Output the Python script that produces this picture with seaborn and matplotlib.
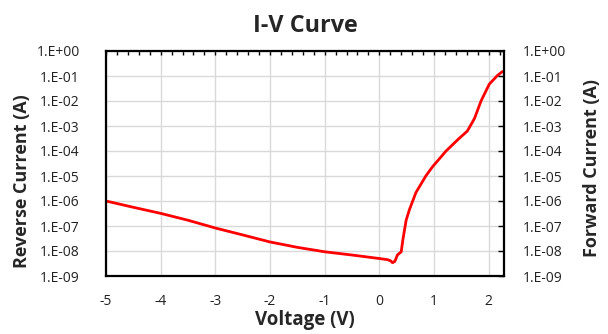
import matplotlib
matplotlib.use("Agg")
import matplotlib.pyplot as plt
from matplotlib.ticker import FuncFormatter, LogLocator, MultipleLocator, NullFormatter
import numpy as np
import pandas as pd
import seaborn as sns

# Measured I-V sweep (volts, amps)
voltage = [-5.0, -4.5, -4.0, -3.5, -3.0, -2.5, -2.0, -1.5, -1.0, -0.5,
           0.0, 0.15, 0.21, 0.24, 0.28, 0.30, 0.33, 0.40, 0.43, 0.49,
           0.55, 0.67, 0.85, 0.97, 1.22, 1.46, 1.61, 1.74, 1.86, 2.01,
           2.16, 2.25]
current = [1.0e-6, 5.6e-7, 3.2e-7, 1.7e-7, 8.3e-8, 4.4e-8, 2.3e-8, 1.4e-8, 9.3e-9, 6.9e-9,
           5.0e-9, 4.5e-9, 4.0e-9, 3.4e-9, 3.8e-9, 4.7e-9, 6.9e-9, 9.3e-9, 2.8e-8, 1.7e-7,
           4.5e-7, 2.2e-6, 1.0e-5, 2.3e-5, 1.0e-4, 3.2e-4, 6.3e-4, 2.0e-3, 1.0e-2, 4.7e-2,
           1.05e-1, 1.5e-1]

x_ticks = [-5, -4, -3, -2, -1, 0, 1, 2]
y_ticks = [1e0, 1e-1, 1e-2, 1e-3, 1e-4, 1e-5, 1e-6, 1e-7, 1e-8, 1e-9]

df = pd.DataFrame({"Voltage": voltage, "Current": current})

sns.set_theme(style="white")
plt.rcParams["font.family"] = ["Open Sans", "DejaVu Sans"]

fig = plt.figure(figsize=(6.08, 3.34), dpi=100)
ax = fig.add_axes([106 / 608, 58 / 334, 398 / 608, 225 / 334])

sns.lineplot(data=df, x="Voltage", y="Current", sort=False, color="#ff0000",
             linewidth=2.0, ax=ax, legend=False)

ax.set_yscale("log")
ax.set_ylim(1e-9, 1e0)
ax.set_xlim(-5, 2.28)

sci = FuncFormatter(lambda v, pos: "1.E{:+03d}".format(int(round(np.log10(v)))))

ax.set_xticks(x_ticks)
ax.set_xticklabels([str(t) for t in x_ticks])
ax.xaxis.set_minor_locator(MultipleLocator(0.2))
ax.set_yticks(y_ticks)
ax.yaxis.set_major_formatter(sci)
ax.yaxis.set_minor_formatter(NullFormatter())

ax.grid(True, which="major", color="#d9d9d9", linewidth=1.0)
ax.tick_params(axis="x", which="both", bottom=False, top=True, direction="in",
               length=3, width=1, color="black", labelsize=10, pad=13,
               labelcolor="#222222")
ax.tick_params(axis="y", which="both", left=False, right=False, length=0,
               labelsize=10, pad=19, labelcolor="#222222")

for s in ax.spines.values():
    s.set_visible(True)
    s.set_color("black")
    s.set_linewidth(1.6)

# Right-hand axis for the forward current
ax2 = ax.twinx()
ax2.set_yscale("log")
ax2.set_ylim(1e-9, 1e0)
ax2.set_yticks(y_ticks)
ax2.yaxis.set_major_formatter(sci)
ax2.yaxis.set_minor_locator(LogLocator(base=10, subs=np.arange(2, 10)))
ax2.yaxis.set_minor_formatter(NullFormatter())
ax2.grid(False)
ax2.tick_params(axis="y", which="major", right=True, direction="in", length=4,
                width=1, color="black", labelsize=10, pad=13.5, labelcolor="#222222")
ax2.tick_params(axis="y", which="minor", right=True, direction="in", length=3,
                width=0.8, color="black")
for s in ax2.spines.values():
    s.set_visible(False)

ax.set_xlabel("Voltage (V)", fontsize=13.5, fontweight="bold", labelpad=1)
ax.set_ylabel("Reverse Current (A)", fontsize=13, fontweight="bold")
ax2.set_ylabel("Forward Current (A)", fontsize=13, fontweight="bold")
ax.yaxis.set_label_coords(-0.188, 0.42)
ax2.yaxis.set_label_coords(1.198, 0.48)
ax.set_title("I-V Curve", fontsize=16.8, fontweight="bold", pad=14)

fig.savefig("out.png", dpi=100)
